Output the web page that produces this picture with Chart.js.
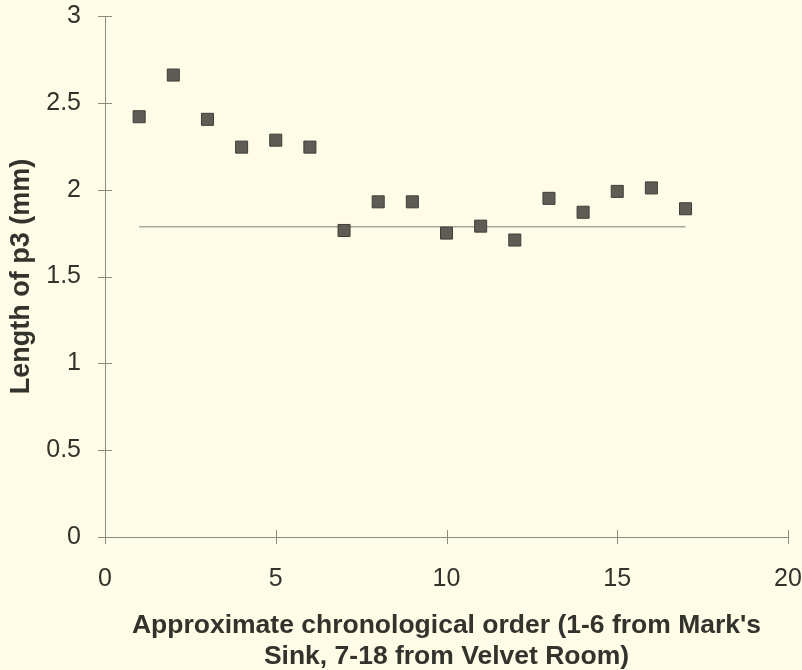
<!DOCTYPE html>
<html>
<head>
<meta charset="utf-8">
<script src="https://cdn.jsdelivr.net/npm/chart.js@4"></script>
<style>
  html, body { margin: 0; padding: 0; background: #fefce6; }
  #wrap { width: 802px; height: 670px; }
</style>
</head>
<body>
<div id="wrap"><canvas id="chart" width="802" height="670"></canvas></div>
<script>
// ---- datos ----
const orderX = [1, 2, 3, 4, 5, 6, 7, 8, 9, 10, 11, 12, 13, 14, 15, 16, 17];
const lengthP3 = [2.42, 2.66, 2.405, 2.245, 2.285, 2.245, 1.765, 1.93, 1.93, 1.75, 1.79, 1.71, 1.95, 1.87, 1.99, 2.01, 1.89];
const meanLineX = [1, 17];
const meanLineY = [1.786, 1.786];
const xTicks = [0, 5, 10, 15, 20];
const yTicks = [0, 0.5, 1, 1.5, 2, 2.5, 3];

const BG = '#fefce6';
const INK = '#33332d';
const AXIS = '#8a8a80';
const FONT = '"Liberation Sans", Arial, sans-serif';

// fondo del lienzo
const bgPlugin = {
  id: 'bg',
  beforeDraw(chart) {
    const ctx = chart.ctx;
    ctx.save();
    ctx.fillStyle = BG;
    ctx.fillRect(0, 0, chart.width, chart.height);
    ctx.restore();
  }
};

// marcas de escala que cruzan el eje (estilo "+")
const crossTicks = {
  id: 'crossTicks',
  afterDraw(chart) {
    const { ctx, scales: { x, y } } = chart;
    const half = 7;
    ctx.save();
    ctx.strokeStyle = AXIS;
    ctx.lineWidth = 1;
    ctx.beginPath();
    xTicks.forEach(v => {
      const px = Math.round(x.getPixelForValue(v)) + 0.5;
      ctx.moveTo(px, y.bottom - half);
      ctx.lineTo(px, y.bottom + half);
    });
    yTicks.forEach(v => {
      const py = Math.round(y.getPixelForValue(v)) + 0.5;
      ctx.moveTo(x.left - half, py);
      ctx.lineTo(x.left + half, py);
    });
    ctx.stroke();
    ctx.restore();
  }
};

const ctx = document.getElementById('chart').getContext('2d');
new Chart(ctx, {
  data: {
    datasets: [
      {
        type: 'line',
        data: meanLineX.map((v, i) => ({ x: v, y: meanLineY[i] })),
        borderColor: '#a8a8a0',
        borderWidth: 1.5,
        pointRadius: 0,
        fill: false,
        order: 2
      },
      {
        type: 'scatter',
        data: orderX.map((v, i) => ({ x: v, y: lengthP3[i] })),
        pointStyle: 'rect',
        pointRadius: 8.5,
        pointBackgroundColor: '#5e5d55',
        pointBorderColor: '#3e3d38',
        pointBorderWidth: 1,
        order: 1
      }
    ]
  },
  options: {
    responsive: false,
    animation: false,
    layout: { padding: { top: 16, right: 14, left: 0, bottom: 0 } },
    plugins: { legend: { display: false }, tooltip: { enabled: false } },
    scales: {
      x: {
        type: 'linear',
        min: 0, max: 20,
        afterBuildTicks: s => { s.ticks = xTicks.map(v => ({ value: v })); },
        afterFit: s => { s.height = 133; s.paddingLeft = 0; s.paddingRight = 0; },
        grid: { display: true, drawOnChartArea: false, drawTicks: false },
        border: { display: true, color: AXIS, width: 1 },
        ticks: {
          padding: 27,
          color: INK,
          font: { family: FONT, size: 25 },
          callback: v => String(v)
        },
        title: {
          display: true,
          text: ["Approximate chronological order (1-6 from Mark's", 'Sink, 7-18 from Velvet Room)'],
          color: INK,
          font: { family: FONT, size: 26.5, weight: 'bold', lineHeight: 1.2 },
          padding: { top: 0, bottom: -3 }
        }
      },
      y: {
        type: 'linear',
        min: 0, max: 3,
        afterBuildTicks: s => { s.ticks = yTicks.map(v => ({ value: v })); },
        afterFit: s => { s.width = 105; s.paddingTop = 0; s.paddingBottom = 0; },
        grid: { display: true, drawOnChartArea: false, drawTicks: false },
        border: { display: true, color: AXIS, width: 1 },
        ticks: {
          padding: 24,
          color: INK,
          font: { family: FONT, size: 25 },
          callback: v => String(v)
        },
        title: {
          display: true,
          text: 'Length of p3 (mm)',
          color: INK,
          font: { family: FONT, size: 27, weight: 'bold' },
          padding: { top: 5, bottom: 0 }
        }
      }
    }
  },
  plugins: [bgPlugin, crossTicks]
});
</script>
</body>
</html>
